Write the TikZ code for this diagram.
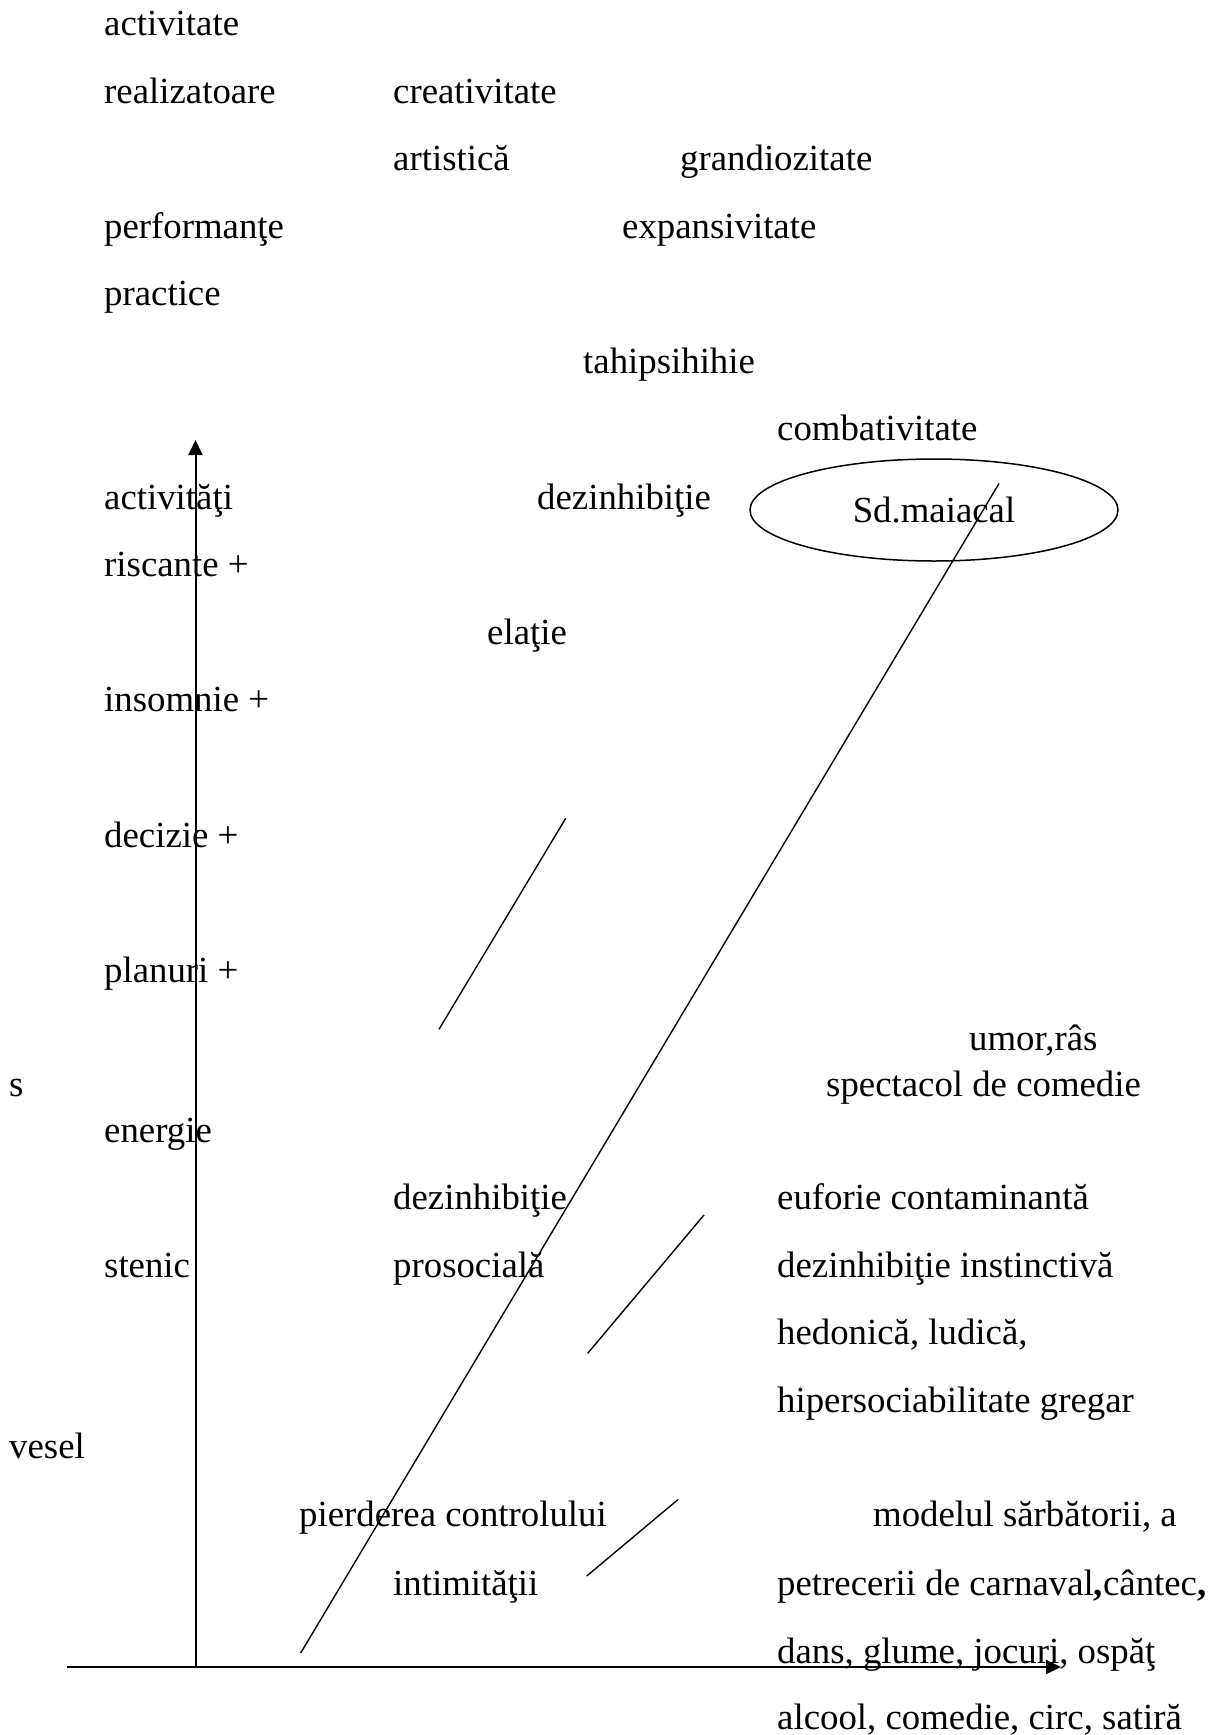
\documentclass[tikz,border=0pt]{standalone}
\usepackage{fontspec}
\setmainfont{Liberation Serif}
\usetikzlibrary{arrows.meta,shapes.geometric}
\begin{document}
\begin{tikzpicture}[x=1pt,y=-1pt,
  lbl/.style={anchor=base west,inner sep=0pt,yshift=-3pt,font=\fontsize{36.8}{44}\selectfont},
  axis/.style={line width=2pt,-{Triangle[length=15pt,width=14pt]}},
  link/.style={line width=1.4pt},
  oval/.style={ellipse,draw,line width=1.5pt,inner sep=0pt,minimum width=368pt,minimum height=102pt,font=\fontsize{36.8}{44}\selectfont}]
\useasboundingbox (0,0) rectangle (1218,1735);

% upper block of labels
\node[lbl] (t1)  at (104,32) {activitate};
\node[lbl] (t2)  at (104,100) {realizatoare};
\node[lbl] (t3)  at (393,100) {creativitate};
\node[lbl] (t4)  at (393,167) {artistică};
\node[lbl] (t5)  at (680,167) {grandiozitate};
\node[lbl] (t6)  at (104,235) {performanţe};
\node[lbl] (t7)  at (622,235) {expansivitate};
\node[lbl] (t8)  at (104,302) {practice};
\node[lbl] (t9)  at (583,370) {tahipsihihie};
\node[lbl] (t10) at (777,437) {combativitate};
\node[lbl] (t11) at (104,506) {activităţi};
\node[lbl] (t12) at (537,506) {dezinhibiţie};
\node[oval] (sd) at (934,510) {Sd.maiacal};

% left column
\node[lbl] (t13) at (104,573) {riscante +};
\node[lbl] (t14) at (487,641) {elaţie};
\node[lbl] (t15) at (104,708) {insomnie +};
\node[lbl] (t16) at (104,844) {decizie +};
\node[lbl] (t17) at (104,979) {planuri +};
\node[lbl] (t18) at (969,1047) {umor,râs};
\node[lbl] (t19) at (9,1093) {s};
\node[lbl] (t20) at (826,1093) {spectacol de comedie};
\node[lbl] (t21) at (104,1139) {energie};

% lower block of labels
\node[lbl] (t22) at (393,1206) {dezinhibiţie};
\node[lbl] (t23) at (777,1206) {euforie contaminantă};
\node[lbl] (t24) at (104,1274) {stenic};
\node[lbl] (t25) at (393,1274) {prosocială};
\node[lbl] (t26) at (777,1274) {dezinhibiţie instinctivă};
\node[lbl] (t27) at (777,1341) {hedonică, ludică,};
\node[lbl] (t28) at (777,1409) {hipersociabilitate gregar};
\node[lbl] (t29) at (9,1455) {vesel};
\node[lbl] (t30) at (299,1523) {pierderea controlului};
\node[lbl] (t31) at (873,1523) {modelul sărbătorii, a};
\node[lbl] (t32) at (393,1592) {intimităţii};
\node[lbl] (t33) at (777,1592) {petrecerii de carnaval\textbf{,}cântec\textbf{,}};
\node[lbl] (t34) at (777,1660) {dans, glume, jocuri, ospăţ};
\node[lbl] (t35) at (777,1726) {alcool, comedie, circ, satiră};

% axes
\coordinate (origin) at (195.5,1667);
\coordinate (ytip) at (195.5,440);
\coordinate (xstart) at (67,1667);
\coordinate (xtip) at (1061,1667);
\draw[axis] (origin) -- (ytip);
\draw[axis] (xstart) -- (xtip);

% long diagonal through the ellipse
\coordinate (d0) at (300.7,1653);
\coordinate (d1) at (999,483.5);
\draw[link] (d0) -- (d1);

% short strokes
\coordinate (a0) at (439,1029.3);
\coordinate (a1) at (565.7,818.3);
\draw[link] (a0) -- (a1);
\coordinate (b0) at (587.7,1353.3);
\coordinate (b1) at (704,1215);
\draw[link] (b0) -- (b1);
\coordinate (c0) at (586.7,1576);
\coordinate (c1) at (678.3,1499.3);
\draw[link] (c0) -- (c1);
\end{tikzpicture}
\end{document}
